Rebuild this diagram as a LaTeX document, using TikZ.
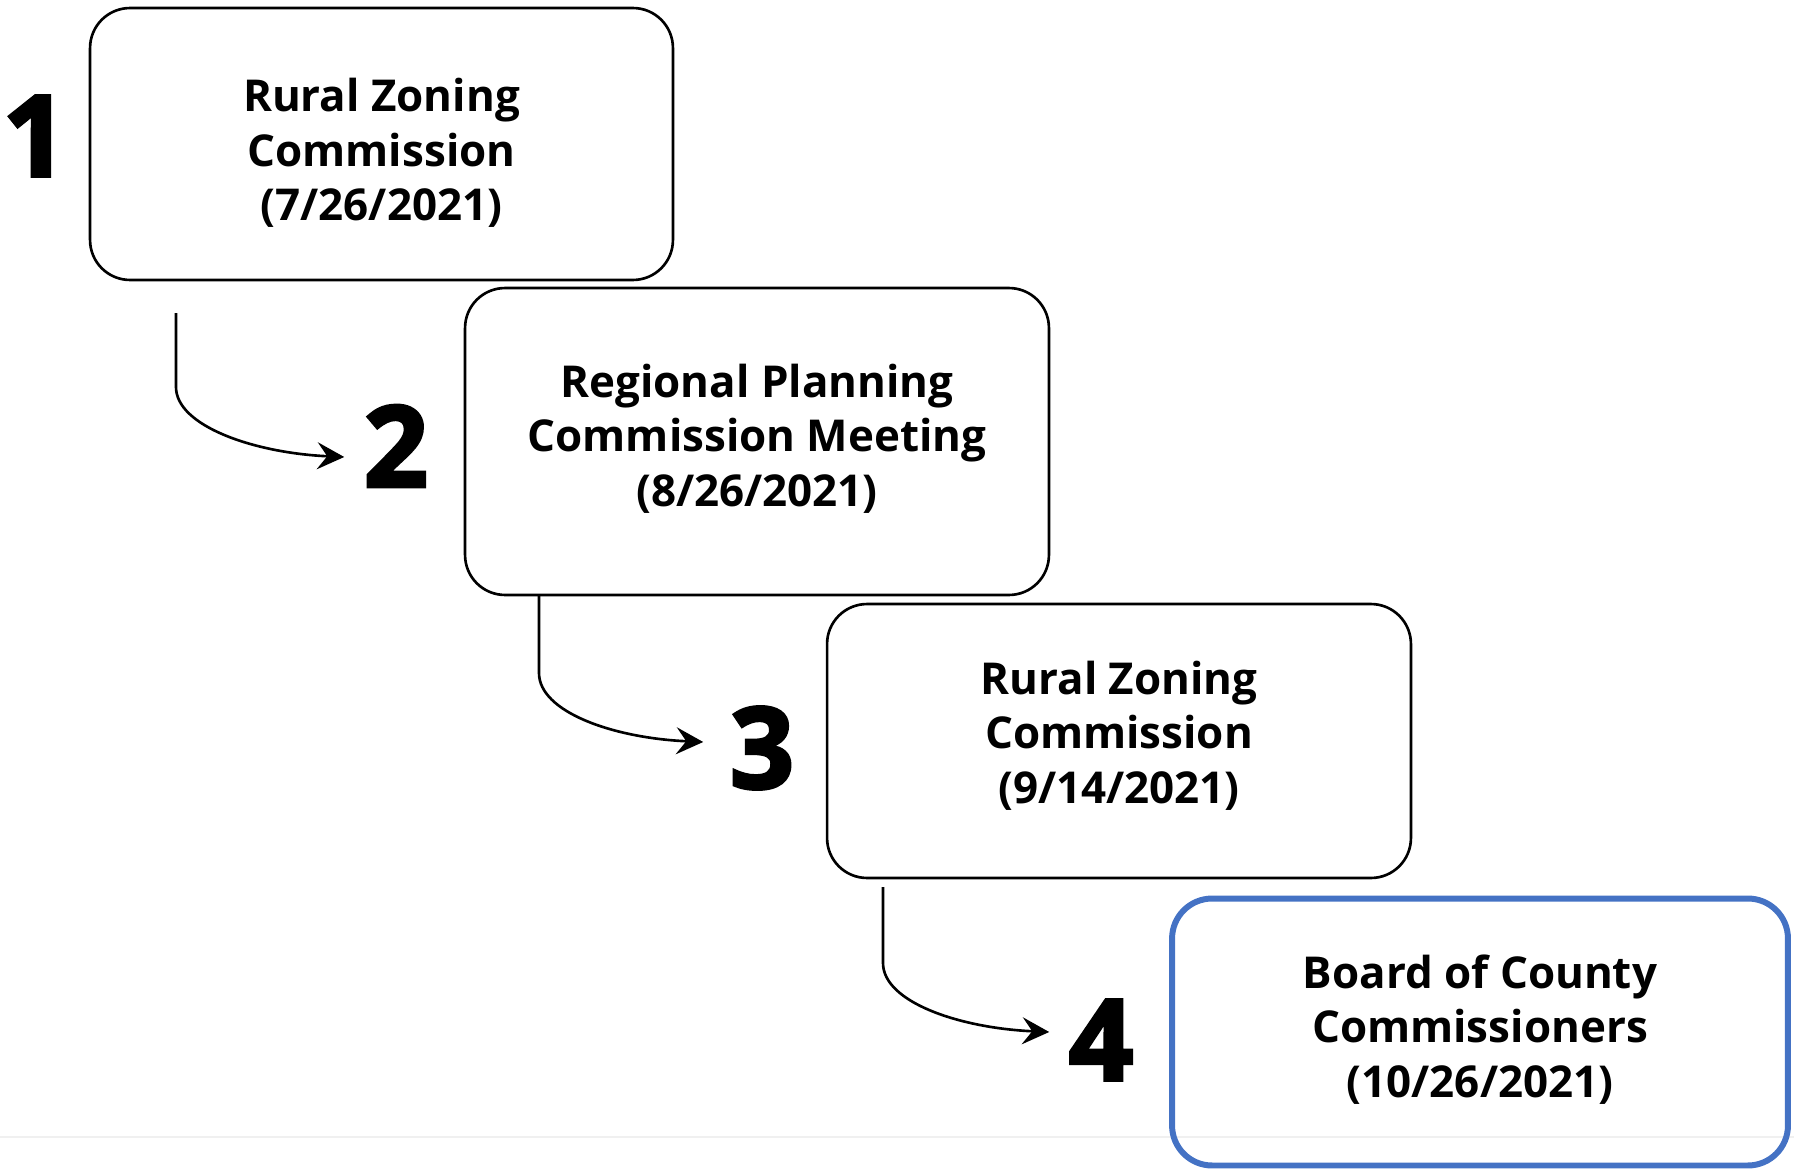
\documentclass[tikz,border=0pt]{standalone}
\usepackage{fontspec}
\setmainfont{Open Sans}
\newfontfamily\numfont[BoldFeatures={FakeBold=3}]{Open Sans}
\usetikzlibrary{arrows.meta,positioning}
\definecolor{boardblue}{RGB}{68,114,196}
\tikzset{
    stagebox/.style={rectangle,draw,line width=1.5pt,rounded corners=0.8cm,align=center,inner sep=0pt,font=\bfseries\fontsize{25}{31}\selectfont},
    finalbox/.style={stagebox,draw=boardblue,line width=3.4pt},
    stagenum/.style={font=\numfont\bfseries\fontsize{64}{64}\selectfont,inner ysep=0pt,inner xsep=11pt},
    stageline/.style={-{Stealth[length=5.4mm,width=5.4mm,inset=2mm]},line width=1.5pt}
}

\begin{document}
\begin{tikzpicture}[x=0.02cm,y=-0.02cm]
    \useasboundingbox (0,0) rectangle (1794,1169);
    % faint scan line
    \draw[gray!12,line width=0.8pt] (0,1137) -- (1794,1137);
    \node[stagebox,minimum width=11.66cm,minimum height=5.44cm,text height=91pt] (rzc1) at (381.5,144) {Rural Zoning\\Commission\\(7/26/2021)};
    \node[stagebox,minimum width=11.68cm,minimum height=6.14cm,text depth=7.4pt] (rpc) at (757,441.5) {Regional Planning\\Commission Meeting\\(8/26/2021)};
    \node[stagebox,minimum width=11.68cm,minimum height=5.48cm,text depth=10.3pt] (rzc2) at (1119,741) {Rural Zoning\\Commission\\(9/14/2021)};
    \node[finalbox,minimum width=12.32cm,minimum height=5.34cm,text depth=6.8pt] (bcc) at (1480,1032) {Board of County\\Commissioners\\(10/26/2021)};
    \node[stagenum] (n1) at (35,136) {1};
    \node[stagenum] (n2) at (396,446) {2};
    \node[stagenum] (n3) at (762,748) {3};
    \node[stagenum] (n4) at (1101,1040) {4};
    \coordinate (a1) at (176,313);
    \coordinate (a2) at (539,594);
    \coordinate (a3) at (883,887);
    \draw[stageline] (a1) -- ++(0,74) .. controls +(0,39) and +(-90,-4) .. ([yshift=-0.22cm]n2.west);
    \draw[stageline] (a2) -- ++(0,79) .. controls +(0,39) and +(-90,-4) .. ([xshift=-0.14cm,yshift=0.12cm]n3.west);
    \draw[stageline] (a3) -- ++(0,76) .. controls +(0,39) and +(-90,-4) .. ([yshift=0.16cm]n4.west);
\end{tikzpicture}
\end{document}
